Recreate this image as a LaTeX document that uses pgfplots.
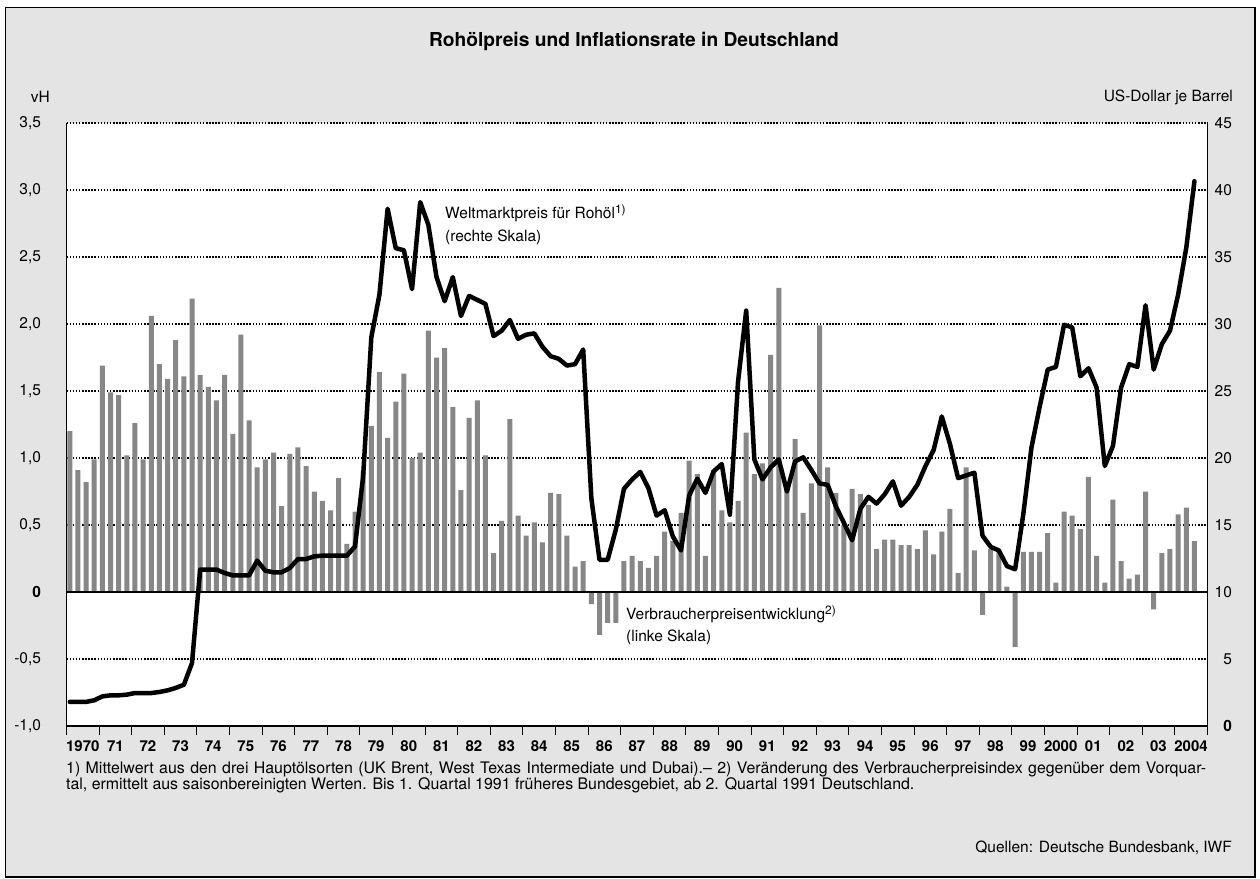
\documentclass[border=0pt]{standalone}
\usepackage{pgfplots}
\usepackage{pgfplotstable}
\pgfplotsset{compat=1.18}
\usepackage{fontspec}
\setmainfont{TeX Gyre Heros}
\definecolor{bgc}{RGB}{228,228,228}
\definecolor{barc}{RGB}{135,135,135}

\pgfplotstableread{
t infl oil
1970.10 1.20 1.80
1970.35 0.91 1.80
1970.60 0.82 1.80
1970.85 0.99 1.92
1971.10 1.69 2.21
1971.35 1.49 2.29
1971.60 1.47 2.29
1971.85 1.02 2.34
1972.10 1.26 2.46
1972.35 0.99 2.46
1972.60 2.06 2.46
1972.85 1.70 2.54
1973.10 1.59 2.66
1973.35 1.88 2.84
1973.60 1.61 3.08
1973.85 2.19 4.70
1974.10 1.62 11.67
1974.35 1.53 11.67
1974.60 1.43 11.67
1974.85 1.62 11.42
1975.10 1.18 11.24
1975.35 1.92 11.24
1975.60 1.28 11.24
1975.85 0.93 12.34
1976.10 0.99 11.59
1976.35 1.04 11.47
1976.60 0.64 11.47
1976.85 1.03 11.79
1977.10 1.08 12.46
1977.35 0.94 12.46
1977.60 0.75 12.66
1977.85 0.68 12.71
1978.10 0.61 12.71
1978.35 0.85 12.71
1978.60 0.36 12.71
1978.85 0.60 13.40
1979.10 0.90 18.64
1979.35 1.24 29.00
1979.60 1.64 32.20
1979.85 1.15 38.60
1980.10 1.42 35.66
1980.35 1.63 35.50
1980.60 1.00 32.60
1980.85 1.04 39.10
1981.10 1.95 37.40
1981.35 1.75 33.50
1981.60 1.82 31.70
1981.85 1.38 33.50
1982.10 0.76 30.60
1982.35 1.30 32.10
1982.60 1.43 31.80
1982.85 1.02 31.50
1983.10 0.29 29.10
1983.35 0.53 29.50
1983.60 1.29 30.30
1983.85 0.57 28.90
1984.10 0.42 29.20
1984.35 0.52 29.30
1984.60 0.37 28.30
1984.85 0.74 27.60
1985.10 0.73 27.40
1985.35 0.42 26.90
1985.60 0.19 27.00
1985.85 0.23 28.10
1986.10 -0.09 17.00
1986.35 -0.32 12.40
1986.60 -0.23 12.40
1986.85 -0.23 14.65
1987.10 0.23 17.70
1987.35 0.27 18.40
1987.60 0.23 18.96
1987.85 0.18 17.76
1988.10 0.27 15.70
1988.35 0.45 16.10
1988.60 0.38 14.15
1988.85 0.59 13.10
1989.10 0.98 17.20
1989.35 0.88 18.46
1989.60 0.27 17.40
1989.85 0.91 19.00
1990.10 0.61 19.55
1990.35 0.52 15.77
1990.60 0.68 25.70
1990.85 1.19 31.00
1991.10 0.88 19.90
1991.35 0.96 18.40
1991.60 1.77 19.30
1991.85 2.27 19.90
1992.10 0.77 17.50
1992.35 1.14 19.75
1992.60 0.59 20.05
1992.85 0.81 19.10
1993.10 1.99 18.10
1993.35 0.93 18.00
1993.60 0.74 16.40
1993.85 0.50 15.15
1994.10 0.77 13.86
1994.35 0.73 16.20
1994.60 0.65 17.10
1994.85 0.32 16.60
1995.10 0.39 17.30
1995.35 0.39 18.26
1995.60 0.35 16.44
1995.85 0.35 17.10
1996.10 0.32 18.00
1996.35 0.46 19.40
1996.60 0.28 20.60
1996.85 0.45 23.10
1997.10 0.62 21.05
1997.35 0.14 18.50
1997.60 0.93 18.70
1997.85 0.31 18.90
1998.10 -0.17 14.20
1998.35 0.32 13.37
1998.60 0.30 13.10
1998.85 0.04 11.93
1999.10 -0.41 11.70
1999.35 0.30 15.80
1999.60 0.30 20.77
1999.85 0.30 23.80
2000.10 0.44 26.60
2000.35 0.07 26.80
2000.60 0.60 29.94
2000.85 0.57 29.75
2001.10 0.47 26.10
2001.35 0.86 26.70
2001.60 0.27 25.25
2001.85 0.07 19.40
2002.10 0.69 20.90
2002.35 0.23 25.25
2002.60 0.10 27.00
2002.85 0.13 26.80
2003.10 0.75 31.40
2003.35 -0.13 26.60
2003.60 0.29 28.50
2003.85 0.32 29.50
2004.10 0.58 32.20
2004.35 0.63 35.70
2004.60 0.38 40.66
}\data

\begin{document}
\begin{tikzpicture}
\useasboundingbox (0pt,0pt) rectangle (1260pt,-878pt);
\fill[white] (0pt,0pt) rectangle (1260pt,-878pt);
\filldraw[fill=bgc, draw=black, line width=1.5pt] (5.5pt,-7.5pt) rectangle (1255pt,-877pt);

\begin{axis}[
  at={(66.5pt,-726pt)}, anchor=south west,
  scale only axis, width=1141pt, height=603pt,
  xmin=1970, xmax=2005, ymin=-1, ymax=3.5,
  axis background/.style={fill=white},
  axis x line*=bottom, axis y line*=left,
  axis line style={line width=1.5pt, black},
  ytick={-1,-0.5,0,0.5,1,1.5,2,2.5,3,3.5},
  yticklabels={{-1,0},{-0,5},{\textbf{0}},{0,5},{1,0},{1,5},{2,0},{2,5},{3,0},{3,5}},
  ytick style={draw=none},
  yticklabel style={font=\fontsize{15.5}{18}\selectfont, anchor=east, xshift=-13pt},
  ymajorgrids,
  grid style={black, line width=1.4pt, dash pattern=on 1.5pt off 1.6pt},
  xtick={1970,1971,...,2005},
  xticklabels={},
  minor x tick num=3,
  tick align=outside,
  x tick style={black, line width=1.1pt},
  major tick length=9pt, minor tick length=5pt,
  extra x ticks={1970.5,1971.5,...,2004.5},
  extra x tick labels={1970,71,72,73,74,75,76,77,78,79,80,81,82,83,84,85,86,87,88,89,90,91,92,93,94,95,96,97,98,99,2000,01,02,03,2004},
  extra x tick style={major tick length=0pt, grid=none, xticklabel shift=11pt,
     xticklabel style={font=\bfseries\fontsize{15}{17}\selectfont}},
]
\addplot[ybar, bar width=5pt, fill=barc, draw=none] table[x=t, y=infl] {\data};
\draw[black, line width=1.4pt] (axis cs:1970,0) -- (axis cs:2005,0);
\end{axis}

\begin{axis}[
  at={(66.5pt,-726pt)}, anchor=south west,
  scale only axis, width=1141pt, height=603pt,
  xmin=1970, xmax=2005, ymin=0, ymax=45,
  axis x line=none, axis y line*=right,
  axis line style={line width=1.5pt, black},
  ytick={0,5,10,15,20,25,30,35,40,45},
  yticklabels={{\textbf{0}},5,10,15,20,25,30,35,40,45},
  ytick style={draw=none},
  yticklabel style={font=\fontsize{15.5}{18}\selectfont, anchor=east, xshift=28pt},
]
\addplot[black, line width=4.5pt, line join=round, line cap=round] table[x=t, y=oil] {\data};
\end{axis}

\node[font=\bfseries\fontsize{19.2}{22}\selectfont] at (634pt,-41pt) {Rohölpreis und Inflationsrate in Deutschland};
\node[anchor=east, inner sep=0pt, font=\fontsize{15.5}{18}\selectfont] at (50pt,-97pt) {vH};
\node[anchor=east, inner sep=0pt, font=\fontsize{15.5}{18}\selectfont] at (1233pt,-97pt) {US-Dollar je Barrel};

\node[anchor=west, inner sep=0pt, font=\fontsize{15.5}{18}\selectfont] at (445pt,-213pt) {Weltmarktpreis für Rohöl\textsuperscript{\fontsize{12}{14}\selectfont 1)}};
\node[anchor=west, inner sep=0pt, font=\fontsize{15.5}{18}\selectfont] at (445pt,-237pt) {(rechte Skala)};
\node[anchor=west, inner sep=0pt, font=\fontsize{15.5}{18}\selectfont] at (626pt,-614pt) {Verbraucherpreisentwicklung\textsuperscript{\fontsize{12}{14}\selectfont 2)}};
\node[anchor=west, inner sep=0pt, font=\fontsize{15.5}{18}\selectfont] at (626pt,-637pt) {(linke Skala)};

\node[anchor=west, inner sep=0pt, font=\fontsize{15.9}{18}\selectfont] at (66pt,-769pt) {\makebox[1140pt][s]{1) Mittelwert aus den drei Hauptölsorten (UK Brent, West Texas Intermediate und Dubai).– 2) Veränderung des Verbraucherpreisindex gegenüber dem Vorquar-}};
\node[anchor=west, inner sep=0pt, font=\fontsize{15.9}{18}\selectfont] at (66pt,-785pt) {tal, ermittelt aus saisonbereinigten Werten. Bis 1. Quartal 1991 früheres Bundesgebiet, ab 2. Quartal 1991 Deutschland.};
\node[anchor=east, inner sep=0pt, font=\fontsize{15.5}{18}\selectfont] at (1232pt,-848pt) {Quellen: Deutsche Bundesbank, IWF};
\end{tikzpicture}
\end{document}
